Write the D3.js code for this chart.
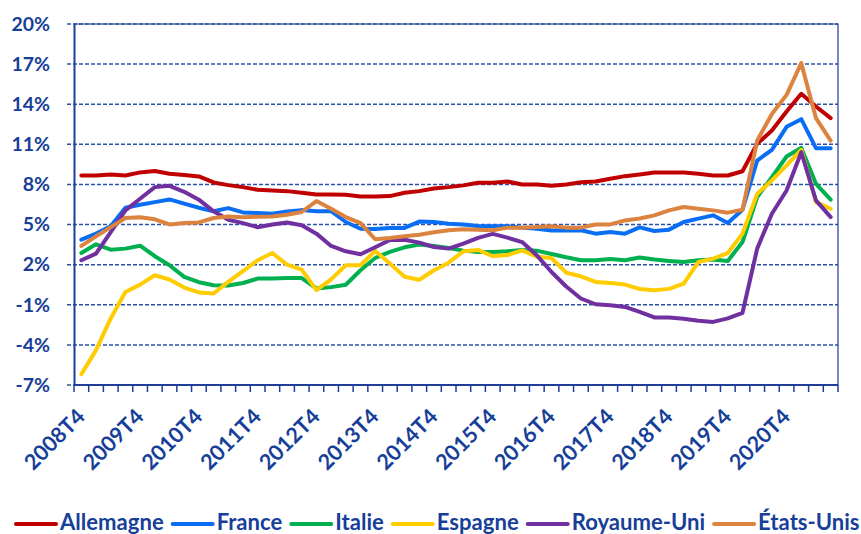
<!DOCTYPE html>
<html>
<head>
<meta charset="utf-8">
<script src="https://cdn.jsdelivr.net/npm/d3@7"></script>
<style>
	body { margin: 0; background: #fff; }
	text { font-family: Lato, "Open Sans", sans-serif; font-weight: bold; fill: #173f99; }
</style>
</head>
<body>
<div id="chart"></div>
<script>
// quarters, 2008T4 .. 2021T3
var quarters = [
	"2008T4",
	"2009T1", "2009T2", "2009T3", "2009T4",
	"2010T1", "2010T2", "2010T3", "2010T4",
	"2011T1", "2011T2", "2011T3", "2011T4",
	"2012T1", "2012T2", "2012T3", "2012T4",
	"2013T1", "2013T2", "2013T3", "2013T4",
	"2014T1", "2014T2", "2014T3", "2014T4",
	"2015T1", "2015T2", "2015T3", "2015T4",
	"2016T1", "2016T2", "2016T3", "2016T4",
	"2017T1", "2017T2", "2017T3", "2017T4",
	"2018T1", "2018T2", "2018T3", "2018T4",
	"2019T1", "2019T2", "2019T3", "2019T4",
	"2020T1", "2020T2", "2020T3", "2020T4",
	"2021T1", "2021T2", "2021T3"
];

var yTicks = [-7, -4, -1, 2, 5, 8, 11, 14, 17, 20];

var countries = ["Allemagne", "France", "Italie", "Espagne", "Royaume-Uni", "États-Unis"];
var colors = ["#c00000", "#0a6ef5", "#00b050", "#ffcc00", "#7030a0", "#dc843f"];

var allemagne = [8.67, 8.67, 8.75, 8.67, 8.9, 9.0, 8.8, 8.7, 8.6, 8.15, 7.95, 7.8, 7.6,
	7.55, 7.5, 7.38, 7.25, 7.25, 7.23, 7.1, 7.1, 7.13, 7.38, 7.5, 7.7, 7.8,
	7.93, 8.12, 8.12, 8.22, 8.0, 8.0, 7.9, 8.0, 8.17, 8.22, 8.42, 8.62, 8.75,
	8.9, 8.9, 8.9, 8.8, 8.67, 8.67, 8.99, 11.04, 12.03, 13.45, 14.78, 13.83, 12.96];

var france = [3.87, 4.32, 4.87, 6.26, 6.48, 6.68, 6.88, 6.56, 6.26, 5.99, 6.23, 5.91, 5.86,
	5.81, 5.97, 6.08, 6.0, 6.0, 5.19, 4.69, 4.66, 4.75, 4.75, 5.22, 5.2, 5.06,
	5.0, 4.89, 4.87, 4.87, 4.77, 4.69, 4.55, 4.55, 4.57, 4.32, 4.44, 4.32, 4.79,
	4.52, 4.62, 5.19, 5.44, 5.69, 5.11, 6.11, 9.79, 10.59, 12.31, 12.88, 10.71, 10.71];

var italie = [2.87, 3.52, 3.12, 3.2, 3.42, 2.63, 1.96, 1.09, 0.69, 0.46, 0.44, 0.63, 0.96,
	0.96, 1.0, 1.0, 0.22, 0.32, 0.5, 1.58, 2.5, 2.95, 3.3, 3.5, 3.4, 3.25,
	3.05, 2.95, 2.95, 3.0, 3.1, 3.05, 2.8, 2.55, 2.33, 2.33, 2.43, 2.33, 2.53,
	2.38, 2.28, 2.2, 2.33, 2.38, 2.28, 3.69, 7.05, 8.55, 10.09, 10.74, 8.05, 6.86];

var espagne = [-6.2, -4.39, -2.02, -0.04, 0.51, 1.21, 0.89, 0.29, -0.08, -0.16, 0.71, 1.51, 2.33,
	2.87, 2.0, 1.63, 0.09, 0.9, 1.96, 1.96, 3.03, 2.08, 1.09, 0.87, 1.58, 2.15,
	3.0, 3.1, 2.63, 2.72, 3.07, 2.6, 2.5, 1.4, 1.13, 0.71, 0.63, 0.51, 0.18,
	0.09, 0.19, 0.59, 2.2, 2.45, 2.87, 4.32, 7.3, 8.3, 9.42, 10.59, 6.68, 6.18];

var royaumeUni = [2.33, 2.83, 4.44, 6.06, 6.93, 7.8, 7.9, 7.45, 6.86, 5.99, 5.36, 5.11, 4.8,
	5.0, 5.15, 4.95, 4.32, 3.4, 3.0, 2.78, 3.3, 3.85, 3.87, 3.65, 3.32, 3.2,
	3.57, 4.0, 4.3, 4.02, 3.69, 2.7, 1.45, 0.37, -0.53, -0.96, -1.03, -1.16, -1.53,
	-1.95, -1.95, -2.05, -2.2, -2.28, -2.02, -1.6, 3.2, 5.81, 7.55, 10.41, 6.81, 5.56];

var etatsUnis = [3.4, 4.12, 4.81, 5.49, 5.54, 5.39, 5.01, 5.11, 5.16, 5.49, 5.61, 5.54, 5.59,
	5.6, 5.74, 5.94, 6.76, 6.18, 5.56, 5.11, 3.9, 3.99, 4.12, 4.24, 4.42, 4.57,
	4.64, 4.62, 4.57, 4.77, 4.77, 4.81, 4.87, 4.77, 4.77, 5.01, 5.01, 5.31, 5.45,
	5.69, 6.06, 6.31, 6.18, 6.06, 5.89, 6.11, 11.28, 13.27, 14.7, 17.07, 12.96, 11.28];

var seriesValues = [allemagne, france, italie, espagne, royaumeUni, etatsUnis];

var WIDTH = 861, HEIGHT = 534;
var LEFT = 74, RIGHT = 838, TOP = 24, BOTTOM = 385;
var AXIS_COLOR = "#1f3e99";

var svg = d3.select("#chart").append("svg")
	.attr("width", WIDTH)
	.attr("height", HEIGHT);

var x = d3.scaleBand().domain(quarters).range([LEFT, RIGHT]).padding(0);
var y = d3.scaleLinear().domain([-7, 20]).range([BOTTOM, TOP]);

// horizontal dashed grid
svg.append("g")
	.selectAll("line")
	.data(yTicks)
	.join("line")
	.attr("x1", LEFT - 7)
	.attr("x2", RIGHT)
	.attr("y1", function(d) { return y(d); })
	.attr("y2", function(d) { return y(d); })
	.attr("stroke", "#2b51a6")
	.attr("stroke-width", 1.5)
	.attr("stroke-dasharray", "4,2");

// plot border (top / right)
svg.append("path")
	.attr("d", "M" + LEFT + "," + TOP + "H" + RIGHT + "V" + BOTTOM)
	.attr("fill", "none")
	.attr("stroke", AXIS_COLOR)
	.attr("stroke-width", 1.2);

// y axis
var yAxis = svg.append("g")
	.attr("transform", "translate(" + LEFT + ",0)")
	.call(d3.axisLeft(y).tickValues(yTicks).tickSize(0).tickPadding(24)
		.tickFormat(function(d) { return d + "%"; }));
yAxis.select(".domain").attr("stroke", AXIS_COLOR).attr("stroke-width", 2);
yAxis.selectAll("text")
	.attr("fill", "#173f99")
	.style("font-size", "19.5px");

// x axis: ticks on band edges
var xg = svg.append("g");
xg.append("line")
	.attr("x1", LEFT).attr("x2", RIGHT)
	.attr("y1", BOTTOM).attr("y2", BOTTOM)
	.attr("stroke", AXIS_COLOR)
	.attr("stroke-width", 2);
var edges = quarters.map(function(q) { return x(q); }).concat([RIGHT]);
xg.selectAll(".tick")
	.data(edges)
	.join("line")
	.attr("class", "tick")
	.attr("x1", function(d) { return d; })
	.attr("x2", function(d) { return d; })
	.attr("y1", BOTTOM)
	.attr("y2", BOTTOM + 7)
	.attr("stroke", AXIS_COLOR)
	.attr("stroke-width", 1.5);

xg.selectAll(".qlabel")
	.data(quarters.filter(function(q, i) { return i % 4 === 0; }))
	.join("text")
	.attr("class", "qlabel")
	.attr("text-anchor", "end")
	.style("font-size", "21.5px")
	.attr("transform", function(d) {
		return "translate(" + (x(d) + x.bandwidth() / 2 + 5) + "," + 418 + ") rotate(-45)";
	})
	.text(function(d) { return d; });

// series
var line = d3.line()
	.x(function(d, i) { return x(quarters[i]) + x.bandwidth() / 2; })
	.y(function(d) { return y(d); });

svg.append("g")
	.selectAll("path")
	.data(seriesValues)
	.join("path")
	.attr("d", line)
	.attr("fill", "none")
	.attr("stroke", function(d, i) { return colors[i]; })
	.attr("stroke-width", 4)
	.attr("stroke-linejoin", "round")
	.attr("stroke-linecap", "round");

// legend
var legend = svg.append("g");
var items = legend.selectAll("g")
	.data(countries)
	.join("g");
items.append("line")
	.attr("x1", 0).attr("x2", 40)
	.attr("y1", -6).attr("y2", -6)
	.attr("stroke", function(d, i) { return colors[i]; })
	.attr("stroke-width", 4)
	.attr("stroke-linecap", "round");
var labels = items.append("text")
	.attr("x", 44)
	.style("font-size", "22px")
	.text(function(d) { return d; });

// fit label widths to the reference legend span
var total = 0;
labels.each(function() { total += this.getComputedTextLength(); });
var fs = 22 * 535 / total;
labels.style("font-size", fs.toFixed(2) + "px");

var cx = 16;
items.each(function() {
	var w = d3.select(this).select("text").node().getComputedTextLength();
	d3.select(this).attr("transform", "translate(" + cx + ",530)");
	cx += 44 + w + 9;
});
</script>
</body>
</html>
